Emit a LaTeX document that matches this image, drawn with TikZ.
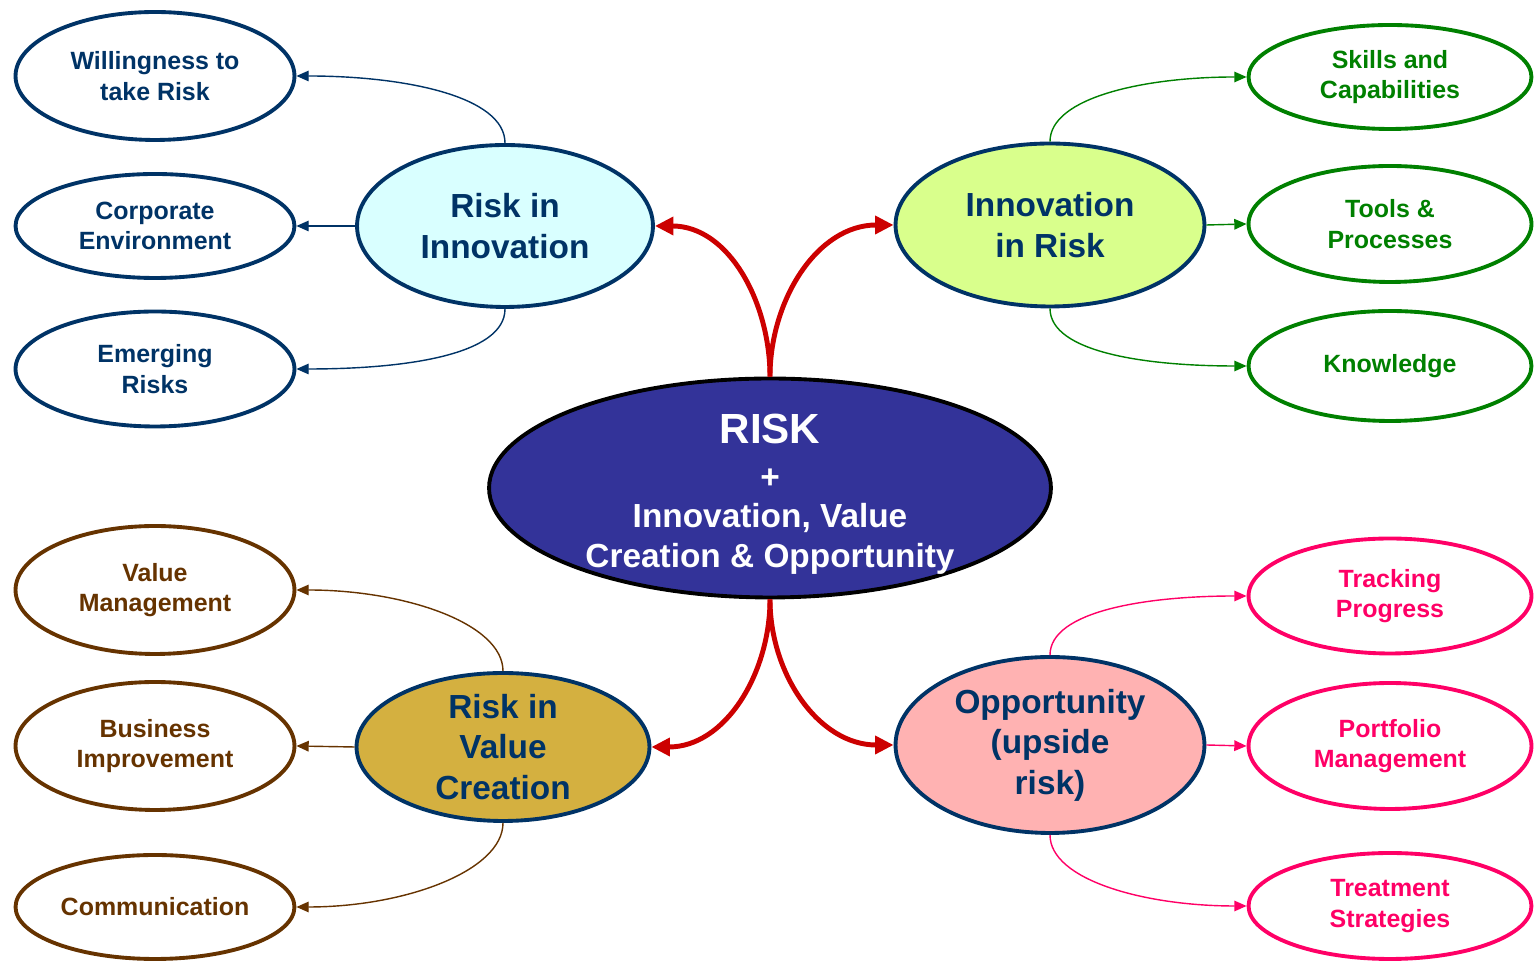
\documentclass[tikz,border=0pt]{standalone}
\usepackage{fontspec}
\setmainfont{Liberation Sans}
\usetikzlibrary{shapes.geometric,arrows.meta}
\definecolor{navy}{RGB}{0,51,102}
\definecolor{hubblue}{RGB}{51,51,153}
\definecolor{cyanfill}{RGB}{217,255,255}
\definecolor{limefill}{RGB}{217,255,140}
\definecolor{goldfill}{RGB}{212,176,64}
\definecolor{rosefill}{RGB}{255,178,178}
\definecolor{leafgreen}{RGB}{0,128,0}
\definecolor{leafbrown}{RGB}{102,51,0}
\definecolor{leafpink}{RGB}{255,0,102}
\definecolor{arrowred}{RGB}{204,0,0}

\begin{document}
\begin{tikzpicture}[x=0.02cm,y=0.02cm,
    hub/.style={ellipse,draw=black,line width=2.2pt,fill=hubblue,text=white,align=center,inner sep=-8pt,
      font=\bfseries\fontsize{19}{23}\selectfont},
    branch/.style={ellipse,draw=navy,line width=2.2pt,text=navy,align=center,inner sep=-12pt,
      font=\bfseries\fontsize{19}{23}\selectfont},
    leaf/.style={ellipse,draw=#1,text=#1,line width=2.2pt,fill=white,align=center,inner sep=0pt,
      font=\bfseries\fontsize{14.2}{17.4}\selectfont},
    twig/.style={draw=#1,line width=0.8pt,-{Triangle[length=7pt,width=6pt]},out looseness=0.55,in looseness=1.25},
    spoke/.style={draw=arrowred,line width=2.8pt,-{Triangle[length=10.5pt,width=10pt]}}]
  \useasboundingbox (0,0) rectangle (1536,963);
  % centre
  \node[hub,minimum width=11.24cm,minimum height=4.38cm] (risk) at (770,475)
    {{\fontsize{24}{28}\selectfont\rule{0pt}{24pt}RISK}\\[3pt] +\\[-1pt] Innovation, Value\\ Creation \& Opportunity};
  % branches
  \node[branch,fill=cyanfill,minimum width=5.92cm,minimum height=3.24cm] (rinno) at (505,737) {Risk in\\ Innovation};
  \node[branch,fill=limefill,minimum width=6.18cm,minimum height=3.26cm] (innor) at (1050,738) {Innovation\\ in Risk};
  \node[branch,fill=goldfill,minimum width=5.86cm,minimum height=2.96cm] (rvalue) at (503,216) {Risk in\\ Value\\ Creation};
  \node[branch,fill=rosefill,minimum width=6.18cm,minimum height=3.52cm] (oppty) at (1050,218) {Opportunity\\ (upside\\ risk)};
  % left leaves
  \node[leaf=navy,minimum width=5.58cm,minimum height=2.56cm] (will) at (155,887) {Willingness to\\ take Risk};
  \node[leaf=navy,minimum width=5.58cm,minimum height=2.08cm] (corp) at (155,737) {Corporate\\ Environment};
  \node[leaf=navy,minimum width=5.58cm,minimum height=2.30cm] (emerg) at (155,594) {Emerging\\ Risks};
  \node[leaf=leafbrown,minimum width=5.58cm,minimum height=2.56cm] (valmgmt) at (155,373) {Value\\ Management};
  \node[leaf=leafbrown,minimum width=5.58cm,minimum height=2.56cm] (busimp) at (155,217) {Business\\ Improvement};
  \node[leaf=leafbrown,minimum width=5.58cm,minimum height=2.08cm] (comm) at (155,56) {Communication};
  % right leaves
  \node[leaf=leafgreen,minimum width=5.66cm,minimum height=2.08cm] (skills) at (1390,886) {Skills and\\ Capabilities};
  \node[leaf=leafgreen,minimum width=5.66cm,minimum height=2.32cm] (tools) at (1390,739) {Tools \&\\ Processes};
  \node[leaf=leafgreen,minimum width=5.66cm,minimum height=2.20cm] (know) at (1390,597) {Knowledge};
  \node[leaf=leafpink,minimum width=5.66cm,minimum height=2.30cm] (track) at (1390,367) {Tracking\\ Progress};
  \node[leaf=leafpink,minimum width=5.66cm,minimum height=2.52cm] (portf) at (1390,217) {Portfolio\\ Management};
  \node[leaf=leafpink,minimum width=5.66cm,minimum height=2.12cm] (treat) at (1390,57) {Treatment\\ Strategies};
  % red spokes
  \draw[spoke] (risk.north) to[out=90,in=0] (rinno.east);
  \draw[spoke] (risk.north) to[out=90,in=180] (innor.west);
  \draw[spoke] (risk.south) to[out=-90,in=0] (rvalue.east);
  \draw[spoke] (risk.south) to[out=-90,in=180] (oppty.west);
  % twigs
  \draw[twig=navy] (rinno.north) to[out=90,in=0] (will.east);
  \draw[twig=navy] (rinno.west) -- (corp.east);
  \draw[twig=navy] (rinno.south) to[out=-90,in=0] (emerg.east);
  \draw[twig=leafgreen] (innor.north) to[out=90,in=180] (skills.west);
  \draw[twig=leafgreen] (innor.east) -- (tools.west);
  \draw[twig=leafgreen] (innor.south) to[out=-90,in=180] (know.west);
  \draw[twig=leafbrown] (rvalue.north) to[out=90,in=0] (valmgmt.east);
  \draw[twig=leafbrown] (rvalue.west) -- (busimp.east);
  \draw[twig=leafbrown] (rvalue.south) to[out=-90,in=0] (comm.east);
  \draw[twig=leafpink] (oppty.north) to[out=90,in=180] (track.west);
  \draw[twig=leafpink] (oppty.east) -- (portf.west);
  \draw[twig=leafpink] (oppty.south) to[out=-90,in=180] (treat.west);
\end{tikzpicture}
\end{document}
